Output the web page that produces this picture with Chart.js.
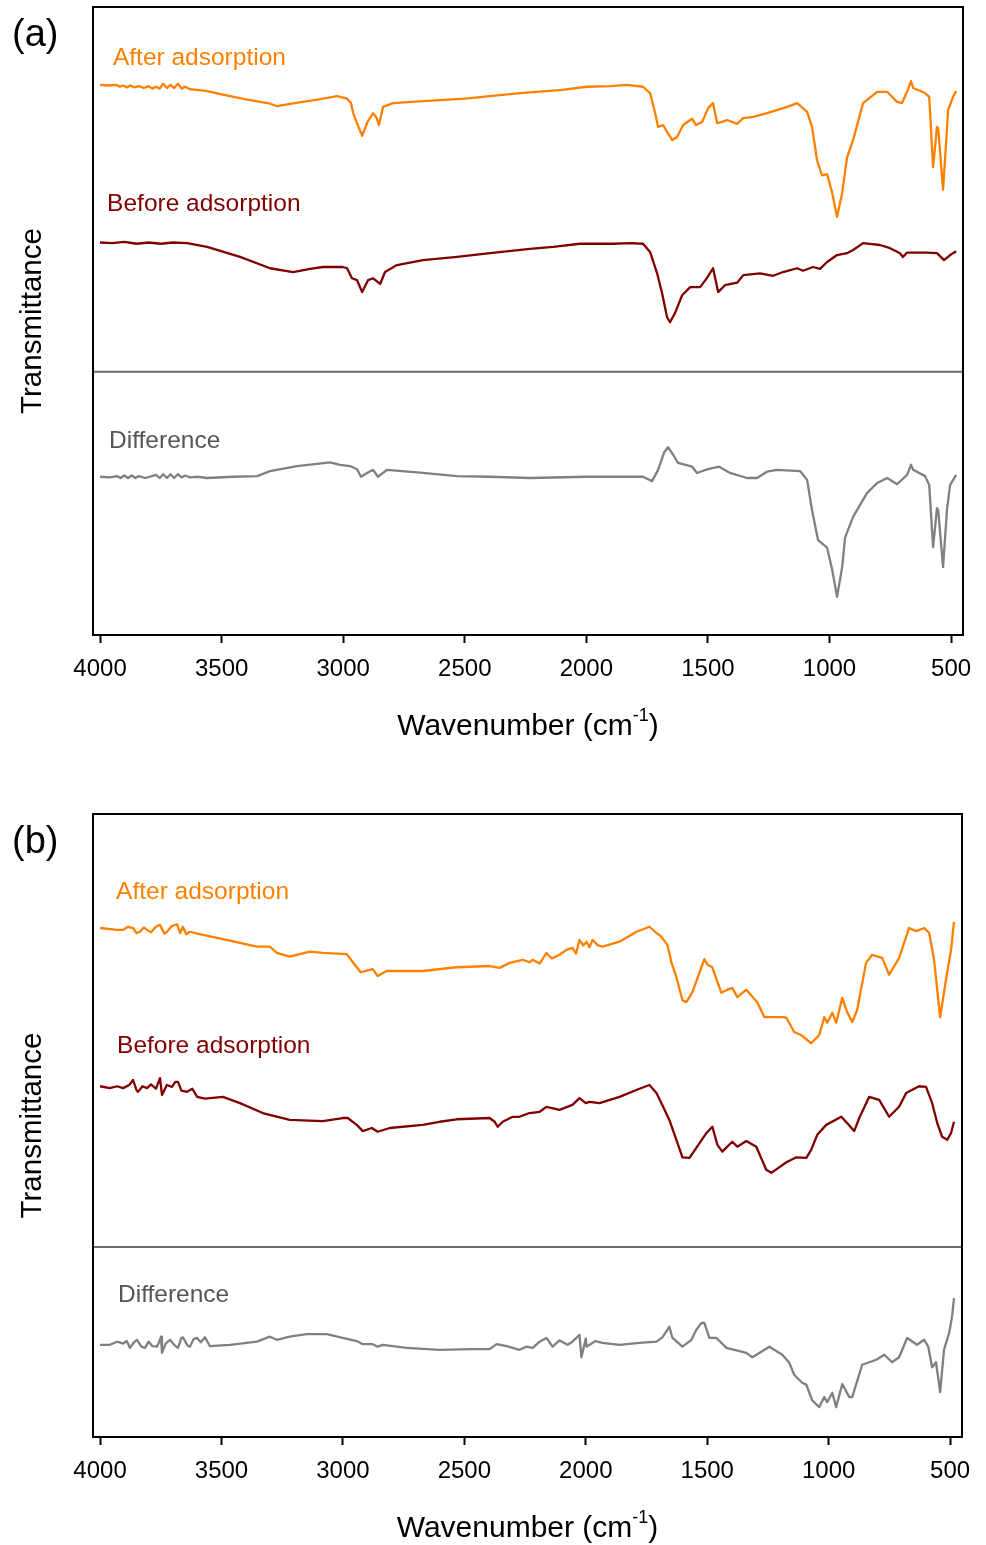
<!DOCTYPE html>
<html>
<head>
<meta charset="utf-8">
<script src="https://cdn.jsdelivr.net/npm/chart.js@4.4.1/dist/chart.umd.min.js"></script>
<style>
  body { margin: 0; background: #fff; }
  canvas { position: absolute; left: 0; }
  #panelA { top: 0; }
  #panelB { top: 802px; }
</style>
</head>
<body>
<canvas id="panelA" width="986" height="770"></canvas>
<canvas id="panelB" width="986" height="743"></canvas>
<script>
// x axis ticks (wavenumber, cm-1)
const xTicks = [4000, 3500, 3000, 2500, 2000, 1500, 1000, 500]
const seriesNames = ['After adsorption', 'Before adsorption', 'Difference']

// ---- panel (a) ----
const aAfterWn = [4000, 3965, 3935, 3918, 3905, 3890, 3875, 3860, 3840, 3820, 3800, 3785, 3770, 3755, 3740, 3725, 3710, 3695, 3680, 3665, 3650, 3630, 3600, 3560, 3500, 3400, 3300, 3272, 3200, 3100, 3025, 2984, 2968, 2959, 2940, 2922, 2900, 2877, 2862, 2853, 2836, 2795, 2672, 2500, 2273, 2100, 1997, 1900, 1833, 1767, 1738, 1717, 1705, 1684, 1668, 1647, 1627, 1602, 1565, 1549, 1524, 1499, 1479, 1462, 1442, 1421, 1380, 1355, 1314, 1257, 1174, 1133, 1092, 1072, 1051, 1031, 1010, 989, 969, 948, 928, 903, 862, 804, 763, 722, 702, 681, 665, 656, 607, 590, 574, 558, 553, 533, 512, 492, 479]
const aAfterT = [87.6, 87.5, 87.6, 87.3, 87.5, 87.2, 87.5, 87.2, 87.4, 87.1, 87.4, 87.0, 87.3, 87.0, 87.8, 87.1, 87.6, 87.1, 87.8, 87.0, 87.3, 86.9, 86.8, 86.6, 86.1, 85.3, 84.6, 84.2, 84.7, 85.3, 85.8, 85.4, 84.7, 83.1, 81.2, 79.5, 81.7, 83.1, 82.3, 81.2, 84.1, 84.7, 85.0, 85.4, 86.3, 86.8, 87.3, 87.4, 87.6, 87.3, 86.3, 83.1, 80.9, 81.2, 80.1, 78.8, 79.3, 81.2, 82.2, 81.2, 81.7, 83.9, 84.7, 81.5, 81.7, 82.0, 81.4, 82.3, 82.5, 83.1, 84.1, 84.7, 83.3, 80.9, 75.6, 73.2, 73.4, 70.4, 66.6, 70.4, 76.0, 78.8, 84.7, 86.5, 86.5, 84.9, 84.7, 86.5, 88.2, 87.1, 86.3, 85.7, 74.5, 80.9, 80.7, 70.9, 83.6, 85.7, 86.6]

const aBeforeWn = [4000, 3950, 3900, 3850, 3800, 3750, 3700, 3642, 3560, 3424, 3301, 3206, 3136, 3083, 3001, 2984, 2964, 2943, 2922, 2898, 2877, 2848, 2828, 2779, 2672, 2532, 2396, 2232, 2137, 2026, 1890, 1820, 1767, 1738, 1709, 1689, 1668, 1656, 1635, 1606, 1573, 1532, 1503, 1479, 1458, 1430, 1380, 1355, 1286, 1232, 1191, 1133, 1109, 1068, 1039, 1010, 969, 928, 903, 862, 792, 751, 710, 698, 681, 599, 558, 529, 504, 479]
const aBeforeT = [62.5, 62.4, 62.6, 62.3, 62.5, 62.3, 62.5, 62.4, 61.8, 60.2, 58.4, 57.8, 58.3, 58.6, 58.6, 58.4, 56.8, 56.5, 54.6, 56.5, 56.8, 55.9, 57.8, 58.9, 59.7, 60.2, 60.8, 61.5, 61.8, 62.3, 62.3, 62.4, 62.3, 61.0, 57.6, 54.5, 50.6, 49.8, 51.3, 54.1, 55.4, 55.4, 56.9, 58.4, 54.6, 55.7, 56.1, 57.3, 57.6, 57.2, 57.8, 58.4, 58.0, 58.6, 58.3, 59.4, 60.5, 60.8, 61.3, 62.4, 62.1, 61.6, 60.8, 60.2, 60.9, 60.9, 60.8, 59.7, 60.5, 61.1]

const aDiffWn = [4000, 3960, 3930, 3915, 3900, 3885, 3870, 3855, 3840, 3815, 3795, 3770, 3755, 3740, 3725, 3710, 3695, 3680, 3665, 3650, 3630, 3600, 3560, 3450, 3354, 3301, 3190, 3054, 3013, 2972, 2943, 2927, 2902, 2877, 2857, 2820, 2672, 2532, 2396, 2232, 1997, 1767, 1730, 1705, 1680, 1664, 1643, 1623, 1565, 1545, 1500, 1454, 1409, 1339, 1298, 1257, 1216, 1121, 1092, 1072, 1047, 1010, 989, 969, 948, 936, 903, 846, 804, 763, 722, 681, 665, 656, 607, 590, 574, 558, 553, 533, 517, 504, 479]
const aDiffT = [25.2, 25.1, 25.3, 25.0, 25.4, 25.0, 25.4, 25.0, 25.3, 25.0, 25.2, 25.5, 25.0, 25.6, 25.0, 25.6, 25.0, 25.6, 25.1, 25.4, 25.1, 25.2, 25.0, 25.2, 25.3, 26.1, 26.9, 27.5, 27.1, 26.9, 26.4, 25.2, 25.8, 26.3, 25.2, 26.3, 25.8, 25.3, 25.2, 25.0, 25.2, 25.2, 24.5, 26.3, 29.1, 29.9, 28.7, 27.4, 26.8, 25.8, 26.4, 26.8, 25.8, 25.0, 25.0, 26.0, 26.3, 26.1, 24.7, 19.9, 15.1, 13.9, 10.4, 6.1, 10.8, 15.5, 18.8, 22.6, 24.2, 25.0, 24.0, 25.5, 27.1, 26.3, 25.3, 23.9, 14.0, 20.2, 19.9, 10.8, 19.9, 23.9, 25.5]

// ---- panel (b) ----
const bAfterWn = [4000, 3930, 3905, 3885, 3864, 3850, 3835, 3820, 3807, 3790, 3770, 3753, 3735, 3724, 3705, 3683, 3670, 3659, 3645, 3630, 3600, 3576, 3494, 3354, 3301, 3272, 3219, 3136, 3083, 2984, 2959, 2927, 2877, 2857, 2820, 2672, 2532, 2396, 2355, 2314, 2260, 2232, 2219, 2190, 2162, 2140, 2108, 2080, 2055, 2040, 2026, 2010, 1997, 1985, 1972, 1950, 1931, 1861, 1791, 1738, 1709, 1689, 1664, 1647, 1627, 1602, 1586, 1561, 1524, 1512, 1499, 1479, 1442, 1417, 1397, 1376, 1339, 1294, 1265, 1191, 1174, 1142, 1113, 1072, 1039, 1018, 1006, 985, 969, 944, 924, 903, 883, 846, 821, 780, 751, 710, 669, 640, 607, 586, 566, 541, 517, 496, 484]
const bAfterT = [81.7, 81.4, 81.4, 81.9, 81.7, 80.9, 81.1, 81.8, 81.4, 81.0, 81.9, 82.2, 80.8, 81.1, 82.0, 82.3, 80.9, 81.9, 80.7, 81.1, 80.8, 80.6, 79.9, 78.7, 78.7, 77.7, 77.1, 77.9, 77.7, 77.5, 76.2, 74.6, 75.1, 74.0, 74.8, 74.8, 75.4, 75.6, 75.3, 76.1, 76.6, 76.2, 76.6, 76.0, 77.7, 76.8, 77.4, 78.2, 78.5, 77.6, 79.8, 78.9, 79.5, 78.6, 79.8, 78.9, 78.7, 79.5, 81.1, 81.9, 80.9, 80.3, 79.0, 76.1, 73.8, 70.1, 69.8, 71.4, 75.4, 76.7, 75.8, 75.4, 71.3, 71.8, 72.1, 70.6, 71.8, 69.8, 67.4, 67.4, 67.3, 65.0, 64.5, 63.2, 64.5, 67.4, 66.5, 68.1, 66.5, 70.5, 68.2, 66.6, 68.5, 76.1, 77.4, 76.9, 74.2, 76.9, 81.7, 81.2, 81.7, 80.9, 76.6, 67.4, 73.4, 78.2, 82.7]

const bBeforeWn = [4000, 3960, 3930, 3905, 3880, 3864, 3850, 3844, 3825, 3807, 3790, 3770, 3753, 3745, 3725, 3704, 3690, 3679, 3665, 3642, 3620, 3600, 3568, 3494, 3424, 3330, 3219, 3083, 3001, 2980, 2943, 2918, 2881, 2857, 2807, 2672, 2602, 2532, 2396, 2375, 2363, 2342, 2301, 2273, 2232, 2190, 2162, 2108, 2055, 2026, 2000, 1985, 1944, 1861, 1779, 1738, 1709, 1685, 1656, 1627, 1602, 1573, 1545, 1503, 1479, 1458, 1438, 1397, 1376, 1339, 1298, 1257, 1236, 1174, 1133, 1092, 1072, 1047, 1010, 948, 924, 895, 874, 833, 792, 751, 710, 681, 628, 599, 574, 553, 533, 512, 496, 484]
const bBeforeT = [56.3, 56.0, 56.3, 56.0, 56.5, 57.3, 55.7, 55.4, 56.3, 56.0, 56.6, 55.9, 57.6, 54.9, 56.5, 56.2, 57.0, 57.0, 55.6, 55.4, 55.9, 54.6, 54.3, 54.6, 53.6, 52.0, 50.9, 50.7, 51.2, 51.2, 50.1, 49.1, 49.6, 49.0, 49.6, 50.1, 50.6, 51.0, 51.2, 50.6, 49.8, 50.6, 51.4, 51.4, 52.0, 52.2, 53.0, 52.5, 53.3, 54.4, 53.6, 53.8, 53.6, 54.6, 55.9, 56.5, 55.2, 53.3, 50.9, 47.7, 44.9, 44.8, 46.4, 48.8, 49.8, 46.9, 45.8, 47.4, 46.6, 47.5, 46.6, 42.9, 42.4, 44.1, 44.9, 44.8, 46.1, 48.5, 50.1, 51.4, 50.4, 49.1, 51.2, 54.6, 54.1, 51.4, 53.0, 55.2, 56.3, 56.2, 53.6, 50.4, 48.2, 47.7, 48.8, 50.6]

const bDiffWn = [4000, 3959, 3930, 3905, 3890, 3877, 3860, 3848, 3830, 3815, 3800, 3785, 3766, 3755, 3749, 3745, 3730, 3712, 3695, 3679, 3665, 3659, 3640, 3630, 3615, 3601, 3585, 3568, 3548, 3465, 3354, 3301, 3272, 3219, 3149, 3066, 3001, 2943, 2918, 2877, 2857, 2836, 2737, 2602, 2466, 2396, 2367, 2326, 2273, 2244, 2219, 2190, 2162, 2137, 2108, 2075, 2055, 2026, 2018, 2000, 1997, 1960, 1931, 1861, 1779, 1709, 1685, 1664, 1656, 1643, 1602, 1565, 1545, 1524, 1512, 1491, 1462, 1421, 1339, 1314, 1244, 1191, 1162, 1142, 1109, 1092, 1068, 1039, 1018, 1006, 985, 969, 944, 915, 903, 862, 804, 771, 739, 710, 677, 636, 607, 590, 574, 558, 541, 525, 504, 492, 484]
const bDiffT = [14.8, 14.8, 15.3, 15.0, 15.4, 14.3, 15.2, 15.6, 14.5, 14.3, 15.3, 14.6, 14.5, 15.4, 16.1, 13.5, 15.0, 15.6, 14.8, 14.3, 15.9, 16.0, 14.7, 14.5, 15.7, 15.9, 15.2, 16.0, 14.6, 14.8, 15.3, 16.1, 15.6, 16.1, 16.5, 16.5, 15.9, 15.4, 14.9, 14.9, 14.5, 14.8, 14.3, 14.0, 14.1, 14.1, 14.9, 14.6, 14.0, 14.5, 14.3, 15.3, 15.9, 14.5, 15.5, 14.8, 15.3, 16.4, 12.8, 15.8, 14.5, 15.4, 15.1, 14.8, 15.1, 15.3, 16.0, 17.2, 17.7, 15.9, 14.5, 15.6, 17.2, 18.3, 18.3, 15.9, 15.9, 14.3, 13.5, 12.8, 14.5, 13.2, 11.9, 10.0, 8.7, 8.4, 5.9, 4.8, 6.4, 5.6, 7.1, 4.8, 8.5, 6.4, 6.4, 11.6, 12.4, 13.2, 12.0, 12.8, 15.9, 14.8, 15.6, 14.5, 11.2, 12.0, 7.2, 14.0, 16.7, 19.3, 22.3]

const colors = ['#ff8000', '#800000', '#808080']
const labelColors = ['#ff8000', '#800000', '#555555']
const FONT = '"Liberation Sans", Arial, Helvetica, sans-serif'

Chart.defaults.font.family = FONT

function pts(wn, t) {
    return wn.map((w, i) => ({ x: w, y: t[i] }))
}

// frame, split line, series names, axis titles and panel letter
const panelDecor = {
    id: 'panelDecor',
    beforeDatasetsDraw(chart, args, opts) {
        const { ctx, chartArea: a, scales: { y } } = chart
        const sy = y.getPixelForValue(opts.split)
        ctx.save()
        ctx.strokeStyle = '#6b6b6b'
        ctx.lineWidth = 2
        ctx.beginPath()
        ctx.moveTo(a.left, sy)
        ctx.lineTo(a.right, sy)
        ctx.stroke()
        ctx.restore()
    },
    afterDraw(chart, args, opts) {
        const { ctx, chartArea: a, scales: { x, y } } = chart
        ctx.save()
        ctx.strokeStyle = '#000'
        ctx.lineWidth = 2
        ctx.strokeRect(a.left, a.top, a.right - a.left, a.bottom - a.top)

        ctx.textBaseline = 'middle'
        ctx.textAlign = 'left'
        ctx.font = '24.5px ' + FONT
        opts.names.forEach((n, i) => {
            ctx.fillStyle = labelColors[i]
            ctx.fillText(seriesNames[i], x.getPixelForValue(n[0]), y.getPixelForValue(n[1]))
        })

        // panel letter
        ctx.fillStyle = '#000'
        ctx.textBaseline = 'alphabetic'
        ctx.font = '38px ' + FONT
        ctx.fillText(opts.letter, 12, a.top + 39)

        // x title with superscript
        const ty = a.bottom + 100
        ctx.font = '30px ' + FONT
        const w1 = ctx.measureText('Wavenumber (cm').width
        const w3 = ctx.measureText(')').width
        ctx.font = '18px ' + FONT
        const w2 = ctx.measureText('-1').width
        let tx = (a.left + a.right) / 2 - (w1 + w2 + w3) / 2
        ctx.font = '30px ' + FONT
        ctx.fillText('Wavenumber (cm', tx, ty)
        ctx.font = '18px ' + FONT
        ctx.fillText('-1', tx + w1, ty - 14)
        ctx.font = '30px ' + FONT
        ctx.fillText(')', tx + w1 + w2, ty)

        // y title
        ctx.font = '29.5px ' + FONT
        ctx.translate(33, (a.top + a.bottom) / 2)
        ctx.rotate(-Math.PI / 2)
        ctx.textAlign = 'center'
        ctx.textBaseline = 'middle'
        ctx.fillText('Transmittance', 0, 0)
        ctx.restore()
    }
}

function drawPanel(canvas, series, decor, padTop, padBottom, padRight) {
    const datasets = series.map((s, i) => ({
        label: seriesNames[i],
        data: pts(s[0], s[1]),
        borderColor: colors[i],
        borderWidth: 2.3,
        borderJoinStyle: 'round',
        pointRadius: 0,
        tension: 0,
        fill: false
    }))

    return new Chart(canvas.getContext('2d'), {
        type: 'line',
        data: { datasets },
        options: {
            responsive: false,
            animation: false,
            devicePixelRatio: 1,
            layout: { padding: { left: 93, right: padRight, top: padTop, bottom: padBottom } },
            plugins: {
                legend: { display: false },
                tooltip: { enabled: false },
                panelDecor: decor
            },
            scales: {
                x: {
                    type: 'linear',
                    reverse: true,
                    min: 451,
                    max: 4029,
                    afterBuildTicks: s => { s.ticks = xTicks.map(v => ({ value: v })) },
                    afterFit: s => { s.height = 100 },
                    border: { display: false },
                    grid: { drawOnChartArea: false, tickLength: 8, tickWidth: 2, tickColor: '#000', color: '#000' },
                    ticks: {
                        color: '#000',
                        font: { size: 24 },
                        padding: 12,
                        maxRotation: 0,
                        autoSkip: false,
                        callback: v => String(v)
                    }
                },
                y: { display: false, min: 0, max: 100 }
            }
        },
        plugins: [panelDecor]
    })
}

drawPanel(document.getElementById('panelA'),
    [[aAfterWn, aAfterT], [aBeforeWn, aBeforeT], [aDiffWn, aDiffT]],
    { letter: '(a)', split: 41.9, names: [[3947, 91.9], [3971, 68.6], [3963, 30.9]] },
    7, 35, 23)

drawPanel(document.getElementById('panelB'),
    [[bAfterWn, bAfterT], [bBeforeWn, bBeforeT], [bDiffWn, bDiffT]],
    { letter: '(b)', split: 30.5, names: [[3934, 87.5], [3930, 62.8], [3926, 22.8]] },
    12, 8, 24)
</script>
</body>
</html>
